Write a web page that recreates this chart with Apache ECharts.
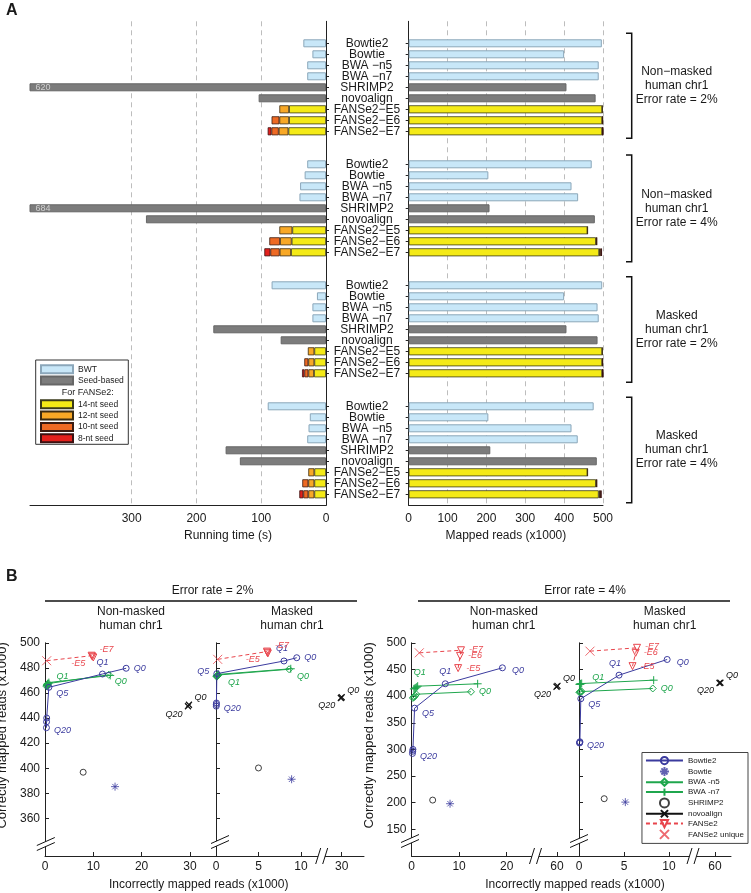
<!DOCTYPE html>
<html><head><meta charset="utf-8">
<script src="https://cdn.jsdelivr.net/npm/echarts@6/dist/echarts.min.js"></script>
<style>html,body{margin:0;padding:0;background:#fff}#c{width:751px;height:893px}</style>
</head><body><div id="c"></div>
<script>
// ================= Panel A data =================
const methodsA = ['Bowtie2', 'Bowtie', 'BWA \u2212n5', 'BWA \u2212n7', 'SHRIMP2', 'novoalign', 'FANSe2\u2212E5', 'FANSe2\u2212E6', 'FANSe2\u2212E7'];
const groupTitlesA = ['Non\u2212masked\nhuman chr1\nError rate = 2%', 'Non\u2212masked\nhuman chr1\nError rate = 4%', 'Masked\nhuman chr1\nError rate = 2%', 'Masked\nhuman chr1\nError rate = 4%'];
const timeTicks = [0, 100, 200, 300];
const readsTicks = [0, 100, 200, 300, 400, 500];
// running time (s), one value per group
const timeBowtie2 = [35, 29, 84, 90];
const timeBowtie = [21, 33, 14, 25];
const timeBWAn5 = [29, 40, 21, 27];
const timeBWAn7 = [29, 41, 21, 29];
const timeSHRIMP2 = [620, 684, 174, 155];
const timeNovoalign = [104, 278, 70, 133];
// FANSe2 running time split by seed stage, per group [E5, E6, E7]
const time14nt = [[57, 57, 58], [52, 53, 54], [18, 18, 18.5], [18, 18, 18]];
const time12nt = [[15, 15, 15], [20, 18, 17.5], [10, 9.3, 8.7], [9.3, 9.3, 9.3]];
const time10nt = [[null, 12, 11.3], [null, 16.5, 14.4], [null, 6.2, 6.2], [null, 9.3, 7.7]];
const time8nt = [[null, null, 5.7], [null, null, 9.3], [null, null, 3.6], [null, null, 6.2]];
// mapped reads (x1000), one value per group
const readsBowtie2 = [497, 471, 498, 476];
const readsBowtie = [400, 205, 400, 205];
const readsBWAn5 = [489, 419, 486, 419];
const readsBWAn7 = [489, 436, 489, 435];
const readsSHRIMP2 = [406, 208, 406, 210];
const readsNovoalign = [481, 479, 486, 484];
const reads14nt = [[498, 498, 498], [460, 482, 490], [498, 498, 498], [460, 482, 489]];
const reads12nt = [[0.8, 0.8, 0.8], [0.6, 1.5, 3], [0.8, 0.8, 0.8], [0.6, 1.5, 3]];
const reads10nt = [[null, 0.6, 0.6], [null, 0.8, 2.5], [null, 0.6, 0.6], [null, 0.8, 2.5]];
const reads8nt = [[null, null, 0.4], [null, null, 1.5], [null, null, 0.4], [null, null, 1.5]];

// ================= Panel B data =================
// points are [incorrectly mapped, correctly mapped] reads (x1000)
// panels: 0 Non-masked 2%, 1 Masked 2%, 2 Non-masked 4%, 3 Masked 4%
const panelTitlesB = ['Non-masked\nhuman chr1', 'Masked\nhuman chr1', 'Non-masked\nhuman chr1', 'Masked\nhuman chr1'];
const qualityLabels = ['Q0', 'Q1', 'Q5', 'Q10', 'Q15', 'Q20'];
const bowtie2B = [
  [[16.8, 479.7], [11.9, 475.1], [0.8, 464.5], [0.35, 440.0], [0.32, 437.0], [0.3, 432.3]],
  [[9.5, 488.1], [8.0, 485.5], [0.1, 475.4], [0.05, 452.0], [0.04, 450.8], [0.03, 449.5]],
  [[19.1, 453.1], [7.1, 423.1], [0.65, 377.4], [0.3, 300.0], [0.25, 296.5], [0.2, 292.4]],
  [[9.8, 468.7], [4.45, 439.3], [0.2, 395.0], [0.1, 314.3], [0.08, 313.0], [0.06, 312.0]]
];
const bwaN5B = [
  [[13.2, 474.5], [0.7, 467.5], [0.5, 466.8], [0.45, 466.2], [0.4, 465.7], [0.35, 465.2]],
  [[8.6, 478.9], [0.25, 474.3], [0.15, 473.9], [0.12, 473.6], [0.1, 473.3], [0.08, 473.0]],
  [[12.5, 408.1], [1.0, 403.5], [0.75, 400.8], [0.6, 399.0], [0.45, 397.6], [0.3, 396.5]],
  [[8.2, 414.3], [0.3, 408.6], [0.2, 408.1], [0.15, 407.7], [0.1, 407.4], [0.05, 407.0]]
];
const bwaN7B = [
  [[13.5, 474.0], [0.8, 468.3], [0.6, 467.5], [0.5, 466.9], [0.45, 466.4], [0.4, 466.0]],
  [[8.8, 479.3], [0.3, 474.8], [0.2, 474.4], [0.15, 474.1], [0.12, 473.8], [0.1, 473.5]],
  [[13.9, 423.1], [1.3, 418.6], [1.1, 416.8], [0.9, 415.5], [0.7, 414.4], [0.5, 413.5]],
  [[8.3, 429.9], [0.3, 423.6], [0.2, 423.1], [0.15, 422.7], [0.1, 422.3], [0.05, 422.0]]
];
const novoalignLabels = ['Q0', 'Q20'];
const novoalignB = [
  [[29.8, 450.6], [29.6, 449.4]],
  [[30.0, 456.6], [29.9, 456.0]],
  [[60.1, 419.3], [59.9, 417.5]],
  [[60.6, 425.0], [60.5, 424.6]]
];
const shrimp2B = [[7.9, 396.8], [5.0, 400.2], [4.45, 204.9], [2.8, 207.5]];
const bowtieB = [[14.5, 385.3], [8.9, 391.2], [8.1, 198.1], [5.15, 201.1]];
const fanseLabels = ['-E5', '-E6', '-E7'];
const fanse2B = [
  [[10.0, 488.3], [9.8, 489.0], [9.65, 489.7]],
  [[6.1, 491.5], [6.05, 492.2], [6.0, 493.0]],
  [[9.8, 452.5], [10.2, 475.5], [10.4, 486.0]],
  [[5.95, 456.2], [6.3, 481.2], [6.45, 490.6]]
];
const fanse2UniqueB = [[0.35, 485.7], [0.2, 486.8], [1.64, 481.2], [1.22, 484.3]];
const legendB = ['Bowtie2', 'Bowtie', 'BWA -n5', 'BWA -n7', 'SHRIMP2', 'novoalign', 'FANSe2', 'FANSe2 unique'];

// ================= styling / layout =================
const FONT = '"Liberation Sans", Arial, Helvetica, sans-serif';
const TXT = '#1a1a1a', AX = '#222';
const LEFT_MAX = 457;
const BLUE = '#3b3b9e', GREEN = '#1fa64d', RED = '#e8454c', BLACK = '#111';
const SYM_X = 'path://M0,0L10,10M10,0L0,10';
const SYM_PLUS = 'path://M5,0L5,10M0,5L10,5';
const SYM_AST = 'path://M5,0L5,10M0,5L10,5M1.6,1.6L8.4,8.4M8.4,1.6L1.6,8.4';

// category rows for panel A (blank rows separate the four groups)
const catsA = ['', ''];
const rowIdx = [];
for (let g = 0; g < 4; g++) {
  rowIdx.push(methodsA.map(m => { catsA.push(m); return catsA.length - 1; }));
  catsA.push('');
  if (g < 3) catsA.push('');
}
const blank = () => catsA.map(() => '-');

const styleA = {
  'BWT': { color: '#c8e7f8', borderColor: '#8ba7ba', borderWidth: 1 },
  'Seed-based': { color: '#7c7c7c', borderColor: '#666', borderWidth: 1 },
  '14-nt seed': { color: '#f4ea17', borderColor: '#3a3a1a', borderWidth: 0.8 },
  '12-nt seed': { color: '#f8a826', borderColor: '#3a2a10', borderWidth: 0.8 },
  '10-nt seed': { color: '#ee6a24', borderColor: '#3a1a10', borderWidth: 0.8 },
  '8-nt seed': { color: '#e3201c', borderColor: '#3a1010', borderWidth: 0.8 }
};

function buildSide(side) {
  const T = side === 0;
  const bwtVals = T ? [timeBowtie2, timeBowtie, timeBWAn5, timeBWAn7] : [readsBowtie2, readsBowtie, readsBWAn5, readsBWAn7];
  const seedVals = T ? [timeSHRIMP2, timeNovoalign] : [readsSHRIMP2, readsNovoalign];
  const stages = T ? [time14nt, time12nt, time10nt, time8nt] : [reads14nt, reads12nt, reads10nt, reads8nt];
  const bwt = blank(), seed = blank(), st = [blank(), blank(), blank(), blank()];
  for (let g = 0; g < 4; g++) {
    for (let i = 0; i < 4; i++) bwt[rowIdx[g][i]] = bwtVals[i][g];
    for (let i = 0; i < 2; i++) {
      const v = seedVals[i][g];
      seed[rowIdx[g][4 + i]] = (T && v > LEFT_MAX)
        ? { value: v, label: { show: true, position: 'insideLeft', distance: 6, formatter: '{c}', color: '#d0d0d0', fontSize: 9 } }
        : v;
    }
    for (let k = 0; k < 3; k++) {
      stages.forEach((arr, si) => { const v = arr[g][k]; st[si][rowIdx[g][6 + k]] = v == null ? '-' : v; });
    }
  }
  const list = [['BWT', bwt], ['Seed-based', seed], ['14-nt seed', st[0]], ['12-nt seed', st[1]], ['10-nt seed', st[2]], ['8-nt seed', st[3]]];
  return list.map(([n, d]) => ({
    type: 'bar', name: n, data: d, xAxisIndex: side, yAxisIndex: side, stack: 'S' + side,
    barWidth: 8, itemStyle: styleA[n], emphasis: { disabled: true }, z: 2
  }));
}

// ----- panel B axes: main axis index and tail (after the break) axis index per panel
const B_MAIN = [2, 3, 5, 7];
const B_TAIL = [2, 4, 6, 8];

function hollow(c, w) { return { color: 'none', borderColor: c, borderWidth: w || 1 }; }
function qlab(text, cfg, color) {
  return cfg ? { show: true, formatter: text, position: cfg[0], offset: cfg[1], distance: 2, color, fontSize: 9, fontStyle: 'italic', fontFamily: FONT }
             : { show: false };
}
const bt2Lab = [
  { 0: ['right', [0, 0]], 1: ['top', [0, 0]], 2: ['right', [0, 6]], 5: ['right', [0, 3]] },
  { 0: ['right', [0, 0]], 1: ['top', [-2, 0]], 2: ['left', [0, -2]], 5: ['right', [0, 2]] },
  { 0: ['right', [2, 3]], 1: ['top', [0, 0]], 2: ['right', [0, 5]], 5: ['right', [0, 3]] },
  { 0: ['right', [2, 3]], 1: ['top', [-4, 0]], 2: ['right', [0, 6]], 5: ['right', [0, 2]] }
];
const n5Lab = [{ 0: ['right', [-2, 7]], 1: ['right', [0, -7]] }, { 0: ['right', [0, 7]], 1: ['right', [2, 7]] }, { 0: ['right', [0, 0]] }, { 0: ['right', [0, 0]] }];
const n7Lab = [{}, {}, { 1: ['top', [2, -1]] }, { 1: ['right', [2, -6]] }];
const novoLab = { 0: ['right', [-2, -7]], 1: ['left', [2, 8]] };
const fLab = [
  { 0: ['left', [0, 6]], 2: ['right', [0, -6]] },
  { 0: ['left', [0, 6]], 2: ['right', [0, -6]] },
  { 0: ['right', [0, 0]], 1: ['right', [0, 0]], 2: ['right', [0, -1]] },
  { 0: ['right', [0, 0]], 1: ['right', [0, 0]], 2: ['right', [0, -1]] }
];

const seriesB = [];
for (let p = 0; p < 4; p++) {
  const ax = B_MAIN[p], tx = B_TAIL[p];
  seriesB.push({
    type: 'line', name: 'Bowtie2', xAxisIndex: ax, yAxisIndex: ax, symbol: 'circle', symbolSize: 6,
    lineStyle: { color: BLUE, width: 1 }, itemStyle: hollow(BLUE), z: 4,
    data: bowtie2B[p].map((pt, i) => ({ value: pt, label: qlab(qualityLabels[i], bt2Lab[p][i], BLUE) }))
  });
  seriesB.push({
    type: 'scatter', name: 'Bowtie', xAxisIndex: ax, yAxisIndex: ax, symbol: SYM_AST, symbolSize: 8,
    itemStyle: hollow(BLUE, 1), data: [bowtieB[p]], z: 4
  });
  seriesB.push({
    type: 'line', name: 'BWA -n5', xAxisIndex: ax, yAxisIndex: ax, symbol: 'diamond', symbolSize: 7,
    lineStyle: { color: GREEN, width: 1 }, itemStyle: hollow(GREEN), z: 3,
    data: bwaN5B[p].map((pt, i) => ({ value: pt, label: qlab(qualityLabels[i], n5Lab[p][i], GREEN) }))
  });
  seriesB.push({
    type: 'line', name: 'BWA -n7', xAxisIndex: ax, yAxisIndex: ax, symbol: SYM_PLUS, symbolSize: 8,
    lineStyle: { color: GREEN, width: 1 }, itemStyle: hollow(GREEN), z: 3,
    data: bwaN7B[p].map((pt, i) => ({ value: pt, label: qlab(qualityLabels[i], n7Lab[p][i], GREEN) }))
  });
  seriesB.push({
    type: 'scatter', name: 'SHRIMP2', xAxisIndex: ax, yAxisIndex: ax, symbol: 'circle', symbolSize: 6,
    itemStyle: hollow(BLACK), data: [shrimp2B[p]], z: 4
  });
  seriesB.push({
    type: 'line', name: 'novoalign', xAxisIndex: tx, yAxisIndex: tx, symbol: SYM_X, symbolSize: 6,
    lineStyle: { color: BLACK, width: 1 }, itemStyle: hollow(BLACK, 1.2), z: 4,
    data: novoalignB[p].map((pt, i) => ({ value: pt, label: qlab(novoalignLabels[i], novoLab[i], BLACK) }))
  });
  const fd = [{ value: fanse2UniqueB[p], symbol: 'none' }];
  for (let k = 2; k >= 0; k--) fd.push({ value: fanse2B[p][k], label: qlab(fanseLabels[k], fLab[p][k], RED) });
  seriesB.push({
    type: 'line', name: 'FANSe2', xAxisIndex: ax, yAxisIndex: ax, symbol: 'triangle', symbolRotate: 180, symbolSize: 7,
    lineStyle: { color: RED, width: 1, type: [4, 3] }, itemStyle: hollow(RED), z: 5, data: fd
  });
  seriesB.push({
    type: 'scatter', name: 'FANSe2 unique', xAxisIndex: ax, yAxisIndex: ax, symbol: SYM_X, symbolSize: 9,
    itemStyle: hollow(RED, 1), data: [fanse2UniqueB[p]], z: 5
  });
}

// ----- axes -----
const lineAx = { show: true, lineStyle: { color: AX, width: 1 } };
const lblStyle = { fontSize: 12, color: TXT, fontFamily: FONT };
const tickFn = (i, v) => v !== '';

const grids = [
  { left: 30, top: 21.3, width: 296, height: 484 },
  { left: 408.7, top: 21.3, width: 194.3, height: 484 },
  { left: 45, top: 642.8, width: 171, height: 213.2 },
  { left: 216, top: 642.8, width: 105.7, height: 213.2 },
  { left: 321.7, top: 642.8, width: 42.3, height: 213.2 },
  { left: 411.5, top: 642.8, width: 124.5, height: 213.2 },
  { left: 536, top: 642.8, width: 43, height: 213.2 },
  { left: 579, top: 642.8, width: 113, height: 213.2 },
  { left: 692, top: 642.8, width: 39, height: 213.2 }
].map(g => Object.assign({ containLabel: false, outerBoundsMode: 'none' }, g));

const xB = [
  [0, 35.4, [0, 10, 20, 30]],
  [0, 12.44, [0, 5, 10]],
  [27.65, 32.62, [30]],
  [0, 26.16, [0, 10, 20]],
  [55.59, 64.62, [60]],
  [0, 12.56, [0, 5, 10]],
  [57.44, 61.78, [60]]
];
const xAxes = [
  {
    gridIndex: 0, type: 'value', inverse: true, min: 0, max: LEFT_MAX, axisLine: lineAx,
    axisTick: { show: false, customValues: timeTicks },
    axisLabel: Object.assign({ customValues: timeTicks, margin: 7 }, lblStyle),
    splitLine: { show: true, lineStyle: { type: [5, 4], color: '#bdbdbd', width: 1 } },
    name: 'Running time (s)', nameLocation: 'middle', nameGap: 22,
    nameTextStyle: { fontSize: 12, color: TXT, fontFamily: FONT, padding: [0, 0, 0, 100] }
  },
  {
    gridIndex: 1, type: 'value', min: 0, max: 500, interval: 100, axisLine: lineAx,
    axisTick: { show: false }, axisLabel: Object.assign({ margin: 7 }, lblStyle),
    splitLine: { show: true, lineStyle: { type: [5, 4], color: '#bdbdbd', width: 1 } },
    name: 'Mapped reads (x1000)', nameLocation: 'middle', nameGap: 22,
    nameTextStyle: { fontSize: 12, color: TXT, fontFamily: FONT }
  }
];
xB.forEach((d, i) => xAxes.push({
  gridIndex: i + 2, type: 'value', min: d[0], max: d[1], axisLine: lineAx,
  axisTick: { show: true, inside: true, length: 4, customValues: d[2], lineStyle: { color: AX } },
  axisLabel: Object.assign({ customValues: d[2], margin: 5 }, lblStyle),
  splitLine: { show: false }
}));

const y2 = [360, 380, 400, 420, 440, 460, 480, 500];
const y4 = [150, 200, 250, 300, 350, 400, 450, 500];
const yAxes = [
  {
    gridIndex: 0, type: 'category', data: catsA, inverse: true, boundaryGap: false, position: 'right',
    axisLine: lineAx, axisTick: { show: true, length: 3, interval: tickFn, lineStyle: { color: AX } },
    axisLabel: Object.assign({ interval: 0, align: 'center', margin: 41 }, lblStyle), splitLine: { show: false }
  },
  {
    gridIndex: 1, type: 'category', data: catsA, inverse: true, boundaryGap: false, position: 'left',
    axisLine: lineAx, axisTick: { show: true, length: 3, interval: tickFn, lineStyle: { color: AX } },
    axisLabel: { show: false }, splitLine: { show: false }
  }
];
function yB(grid, min, max, vals, labels, visible) {
  const o = {
    gridIndex: grid, type: 'value', min, max, show: visible, axisLine: lineAx,
    axisTick: { show: true, inside: true, length: 4, customValues: vals, lineStyle: { color: AX } },
    axisLabel: Object.assign({ show: labels, customValues: vals, margin: 5 }, lblStyle),
    splitLine: { show: false }
  };
  if (labels) Object.assign(o, {
    name: 'Correctly mapped reads (x1000)', nameLocation: 'middle', nameGap: 36,
    nameTextStyle: { fontSize: 13, color: TXT, fontFamily: FONT, padding: [0, 0, 0, 28] }
  });
  return o;
}
yAxes.push(yB(2, 330, 500, y2, true, true));
yAxes.push(yB(3, 330, 500, y2, false, true));
yAxes.push(yB(4, 330, 500, y2, false, false));
yAxes.push(yB(5, 100, 500, y4, true, true));
yAxes.push(yB(6, 100, 500, y4, false, false));
yAxes.push(yB(7, 100, 500, y4, false, true));
yAxes.push(yB(8, 100, 500, y4, false, false));

// ----- decorations (text, brackets, axis-break marks) -----
function gText(x, y, text, size, opt) {
  opt = opt || {};
  return {
    type: 'text', x, y, silent: true, z: 100,
    style: {
      text, fill: TXT, font: (opt.weight || 'normal') + ' ' + size + 'px ' + FONT,
      textAlign: opt.align || 'center', align: opt.align || 'center',
      textVerticalAlign: 'middle', verticalAlign: 'middle', lineHeight: opt.lh || size + 2
    }
  };
}
function gLine(pts, w) { return { type: 'polyline', silent: true, z: 100, shape: { points: pts }, style: { stroke: '#111', lineWidth: w || 1, fill: null } }; }
function breakY(cx, cy) {
  return [
    { type: 'polygon', silent: true, z: 100, shape: { points: [[cx - 9, cy + 6.5], [cx + 9, cy - 1.5], [cx + 9, cy - 6.5], [cx - 9, cy + 1.5]] }, style: { fill: '#fff' } },
    gLine([[cx - 9, cy + 6.5], [cx + 9, cy - 1.5]]), gLine([[cx - 9, cy + 1.5], [cx + 9, cy - 6.5]])
  ];
}
function breakX(cx, cy) {
  return [
    { type: 'polygon', silent: true, z: 100, shape: { points: [[cx - 6, cy + 8], [cx - 1, cy - 8], [cx + 6, cy - 8], [cx + 1, cy + 8]] }, style: { fill: '#fff' } },
    gLine([[cx - 6, cy + 8], [cx - 1, cy - 8]]), gLine([[cx + 1, cy + 8], [cx + 6, cy - 8]])
  ];
}
const brackets = [[33.3, 138.3], [155, 261.7], [276.7, 382.3], [397.3, 502.7]];
const elements = [
  gText(6, 10.5, 'A', 16, { weight: 'bold', align: 'left' }),
  gText(6, 576.7, 'B', 16, { weight: 'bold', align: 'left' }),
  { type: 'rect', silent: true, z: 1, shape: { x: 35.7, y: 360, width: 92.6, height: 84.3 }, style: { fill: '#fff', stroke: '#333', lineWidth: 1 } },
  gText(87.8, 392.3, 'For FANSe2:', 9),
  gText(212.5, 590.7, 'Error rate = 2%', 12),
  gLine([[45, 601], [357, 601]], 1.5),
  gText(585, 590.7, 'Error rate = 4%', 12),
  gLine([[418, 601], [730, 601]], 1.5),
  gText(198.7, 884.3, 'Incorrectly mapped reads (x1000)', 12),
  gText(575, 884.3, 'Incorrectly mapped reads (x1000)', 12)
];
brackets.forEach((b, g) => {
  elements.push(gLine([[626, b[0]], [631.7, b[0]], [631.7, b[1]], [626, b[1]]], 1.5));
  elements.push(gText(676.7, (b[0] + b[1]) / 2, groupTitlesA[g], 12, { lh: 14 }));
});
[131, 292, 503.8, 664.7].forEach((x, i) => elements.push(gText(x, 618.7, panelTitlesB[i], 12, { lh: 14 })));
[[45.8, 844], [220, 842], [410, 841], [579, 841]].forEach(c => elements.push(...breakY(c[0], c[1])));
[321.7, 535.5, 693].forEach(x => elements.push(...breakX(x, 856)));

const legendCommon = { orient: 'vertical', padding: 0, selectedMode: false, icon: 'rect', itemWidth: 32, itemHeight: 8, itemGap: 1.3, textStyle: { fontSize: 8.5, color: TXT, fontFamily: FONT, lineHeight: 8 }, z: 10 };

const option = {
  animation: false,
  textStyle: { fontFamily: FONT, color: TXT },
  grid: grids,
  xAxis: xAxes,
  yAxis: yAxes,
  legend: [
    Object.assign({ data: ['BWT', 'Seed-based'], left: 40, top: 364.3 }, legendCommon),
    Object.assign({ data: ['14-nt seed', '12-nt seed', '10-nt seed', '8-nt seed'], left: 40, top: 399.3 }, legendCommon),
    {
      data: legendB, right: 3, top: 752.5, orient: 'vertical', selectedMode: false,
      backgroundColor: '#fff', borderColor: '#444', borderWidth: 1, padding: [2, 4, 2, 3],
      itemWidth: 37, itemHeight: 9, itemGap: -2.3, z: 10,
      textStyle: { fontSize: 8, lineHeight: 9, color: TXT, fontFamily: FONT }
    }
  ],
  series: buildSide(0).concat(buildSide(1), seriesB),
  graphic: { elements }
};
const chart = echarts.init(document.getElementById('c'), null, { renderer: 'canvas', width: 751, height: 893 });
chart.setOption(option);
</script></body></html>
